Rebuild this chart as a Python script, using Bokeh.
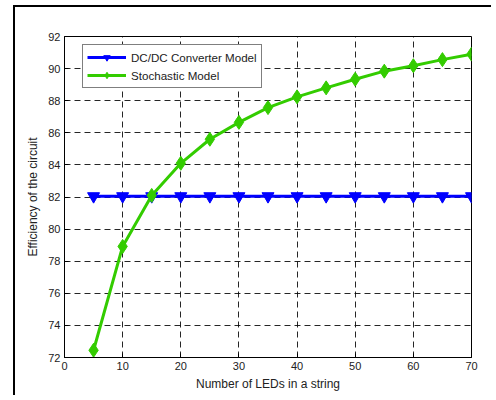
from bokeh.plotting import figure
from bokeh.models import SingleIntervalTicker, Range1d, Legend, LegendItem
from bokeh.embed import file_html
from bokeh.resources import INLINE

leds = [5, 10, 15, 20, 25, 30, 35, 40, 45, 50, 55, 60, 65, 70]
dcdc = [82.05, 82.05, 82.05, 82.05, 82.05, 82.05, 82.05, 82.05, 82.05, 82.05, 82.05, 82.05, 82.05, 82.05]
stochastic = [72.45, 78.92, 82.1, 84.1, 85.6, 86.65, 87.57, 88.24, 88.8, 89.34, 89.84, 90.18, 90.56, 90.9]

FONT = "Liberation Sans"
TXT = "#222222"

p = figure(output_backend="svg", toolbar_location=None,
           frame_width=407, frame_height=321,
           min_border_left=49, min_border_top=29, min_border_right=20, min_border_bottom=38,
           x_range=Range1d(0, 70), y_range=Range1d(72, 92))
p.margin = (5, 0, 0, 13)
p.styles = {"border-top": "2px solid black", "border-left": "2px solid black"}

p.outline_line_color = "black"
p.outline_line_width = 1
p.background_fill_color = "white"
p.border_fill_color = "white"

xt = SingleIntervalTicker(interval=10, num_minor_ticks=0)
yt = SingleIntervalTicker(interval=2, num_minor_ticks=0)
p.xaxis.ticker = xt
p.yaxis.ticker = yt

for ax in [p.xaxis[0], p.yaxis[0]]:
    ax.major_tick_in = 4
    ax.major_tick_out = 0
    ax.minor_tick_line_color = None
    ax.axis_line_color = "black"
    ax.major_tick_line_color = "black"
    ax.major_label_text_font = FONT
    ax.major_label_text_font_size = "11px"
    ax.major_label_text_color = TXT
    ax.axis_label_text_font = FONT
    ax.axis_label_text_font_size = "12px"
    ax.axis_label_text_font_style = "normal"
    ax.axis_label_text_color = TXT
    ax.major_label_standoff = 4

p.xaxis.axis_label = "Number of LEDs in a string"
p.yaxis.axis_label = "Efficiency of the circuit"
p.xaxis.axis_label_standoff = 4
p.yaxis.axis_label_standoff = 5

p.xgrid.ticker = xt
p.ygrid.ticker = yt
for g in [p.xgrid[0], p.ygrid[0]]:
    g.grid_line_color = "black"
    g.grid_line_alpha = 0.85
    g.grid_line_dash = "6 4"
    g.grid_line_width = 1

BLUE = "#0000FF"
GREEN = "#33CC00"

l1 = p.line(leds, dcdc, line_color=BLUE, line_width=3)
m1 = p.scatter(leds, dcdc, marker="inverted_triangle", size=12, fill_color=BLUE, line_color=BLUE)
l2 = p.line(leds, stochastic, line_color=GREEN, line_width=3)
m2 = p.scatter(leds, stochastic, marker="diamond", size=14, fill_color=GREEN, line_color=GREEN)

legend = Legend(items=[LegendItem(label="DC/DC Converter Model", renderers=[l1, m1]),
                       LegendItem(label="Stochastic Model", renderers=[l2, m2])],
                location=(18, 269))
legend.label_text_font = FONT
legend.label_text_font_size = "11.6px"
legend.label_text_color = TXT
legend.border_line_color = "black"
legend.border_line_width = 1
legend.glyph_width = 39
legend.glyph_height = 16
legend.label_height = 16
legend.label_standoff = 5
legend.spacing = 2
legend.padding = 4
legend.margin = 0
legend.background_fill_alpha = 1
p.add_layout(legend, "center")

open("out.html", "w").write(file_html(p, INLINE))
